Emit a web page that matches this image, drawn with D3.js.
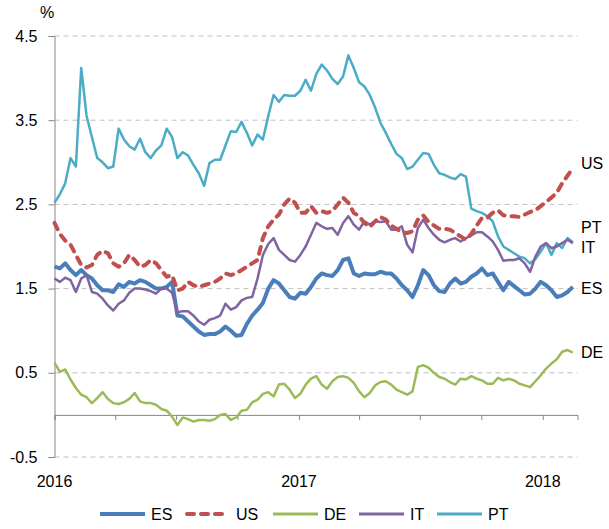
<!doctype html>
<html>
<head>
<meta charset="utf-8">
<script src="https://d3js.org/d3.v7.min.js"></script>
<style>
  body { margin: 0; background: #fff; }
  text { font-family: "Liberation Sans", Arial, sans-serif; fill: #000; }
</style>
</head>
<body>
<div id="chart"></div>
<script>

// one reading every 8 days, starting 1 Jan 2016
var startDate = "2016-01-01";
var stepDays = 8;

var ES = [1.76,1.74,1.80,1.72,1.66,1.72,1.66,1.62,1.54,1.48,1.48,1.46,1.55,1.52,1.58,1.56,1.60,1.58,1.54,1.50,
  1.50,1.52,1.58,1.18,1.17,1.11,1.05,0.99,0.95,0.96,0.96,0.99,1.05,1.00,0.94,0.95,1.08,1.18,1.25,1.33,
  1.50,1.60,1.56,1.48,1.40,1.38,1.45,1.44,1.52,1.62,1.68,1.66,1.65,1.72,1.84,1.86,1.68,1.65,1.68,1.67,
  1.67,1.70,1.68,1.68,1.62,1.54,1.48,1.40,1.54,1.72,1.66,1.54,1.47,1.46,1.56,1.62,1.56,1.58,1.64,1.68,
  1.74,1.66,1.68,1.58,1.48,1.58,1.53,1.48,1.43,1.44,1.50,1.58,1.54,1.48,1.40,1.42,1.46,1.52];

var US = [2.28,2.15,2.07,2.02,1.90,1.78,1.75,1.78,1.90,1.95,1.92,1.80,1.76,1.80,1.90,1.84,1.76,1.78,1.84,1.80,
  1.72,1.64,1.66,1.48,1.50,1.58,1.54,1.52,1.54,1.56,1.58,1.62,1.68,1.66,1.68,1.72,1.76,1.80,1.84,2.10,
  2.24,2.32,2.38,2.50,2.57,2.52,2.40,2.40,2.48,2.40,2.42,2.40,2.42,2.50,2.58,2.52,2.40,2.36,2.28,2.23,
  2.30,2.35,2.32,2.25,2.21,2.17,2.16,2.18,2.32,2.37,2.29,2.25,2.21,2.21,2.20,2.16,2.12,2.08,2.15,2.25,
  2.34,2.34,2.40,2.43,2.37,2.36,2.36,2.35,2.38,2.41,2.43,2.48,2.53,2.58,2.64,2.75,2.84,2.93];

var DE = [0.62,0.51,0.54,0.42,0.32,0.24,0.21,0.14,0.20,0.27,0.19,0.14,0.13,0.15,0.19,0.26,0.16,0.14,0.14,0.12,
  0.07,0.05,-0.02,-0.12,-0.03,-0.05,-0.08,-0.06,-0.06,-0.07,-0.05,0.00,0.01,-0.06,-0.03,0.05,0.06,0.15,0.18,0.25,
  0.27,0.22,0.36,0.37,0.30,0.20,0.25,0.36,0.43,0.46,0.36,0.31,0.40,0.45,0.46,0.44,0.38,0.28,0.21,0.26,
  0.35,0.39,0.40,0.36,0.30,0.27,0.24,0.28,0.57,0.59,0.56,0.50,0.45,0.43,0.39,0.36,0.43,0.42,0.46,0.43,
  0.41,0.37,0.37,0.44,0.41,0.43,0.41,0.37,0.35,0.33,0.40,0.47,0.55,0.61,0.66,0.75,0.77,0.74];

var IT = [1.62,1.58,1.63,1.60,1.46,1.62,1.66,1.46,1.44,1.38,1.30,1.24,1.32,1.36,1.45,1.50,1.50,1.49,1.47,1.44,
  1.50,1.50,1.45,1.22,1.23,1.23,1.18,1.11,1.07,1.13,1.15,1.18,1.32,1.25,1.28,1.36,1.39,1.40,1.62,1.90,
  2.03,2.10,1.96,1.90,1.84,1.82,1.90,2.00,2.14,2.28,2.24,2.21,2.22,2.14,2.28,2.36,2.26,2.20,2.30,2.26,
  2.30,2.29,2.30,2.20,2.20,2.24,2.02,1.93,2.22,2.32,2.22,2.14,2.08,2.05,2.08,2.10,2.06,2.10,2.13,2.17,
  2.17,2.12,2.06,1.96,1.83,1.84,1.84,1.86,1.80,1.70,1.88,2.00,2.04,1.98,2.00,2.04,2.08,2.04];

var PT = [2.52,2.62,2.75,3.05,2.95,4.12,3.55,3.30,3.05,3.00,2.93,2.95,3.40,3.27,3.19,3.15,3.28,3.12,3.05,3.14,
  3.20,3.40,3.30,3.05,3.12,3.08,2.97,2.87,2.72,2.99,3.03,3.03,3.20,3.37,3.36,3.48,3.35,3.20,3.33,3.27,
  3.55,3.80,3.72,3.80,3.79,3.79,3.85,3.98,3.85,4.05,4.16,4.09,3.99,3.93,4.02,4.27,4.12,3.95,3.90,3.80,
  3.65,3.47,3.35,3.22,3.10,3.05,2.92,2.95,3.03,3.11,3.10,2.97,2.87,2.85,2.82,2.80,2.86,2.83,2.45,2.42,
  2.40,2.36,2.30,2.12,2.00,1.96,1.92,1.88,1.86,1.80,1.85,1.94,2.04,1.90,2.04,1.98,2.10,2.05];

var yTicks = [-0.5, 0.5, 1.5, 2.5, 3.5, 4.5];
var yearLabels = ["2016", "2017", "2018"];
var seriesNames = ["ES", "US", "DE", "IT", "PT"];
var seriesColors = ["#4a7ebb", "#c0504d", "#9bbb59", "#8064a2", "#4bacc6"];

var W = 609, H = 529;
var parse = d3.timeParse("%Y-%m-%d");
var t0 = parse(startDate);
var dates = ES.map(function(d, i) { return d3.timeDay.offset(t0, i * stepDays); });

var x = d3.scaleTime()
    .domain([t0, parse("2018-02-22")])
    .range([54.5, 577.5]);
var y = d3.scaleLinear()
    .domain([-0.5, 4.5])
    .range([457, 36]);

var svg = d3.select("#chart").append("svg")
    .attr("width", W)
    .attr("height", H);

// dashed gridlines
svg.append("g").selectAll("line")
  .data(yTicks)
  .enter().append("line")
    .attr("x1", x.range()[0]).attr("x2", x.range()[1])
    .attr("y1", function(d) { return y(d); })
    .attr("y2", function(d) { return y(d); })
    .attr("stroke", "#c0c0c0")
    .attr("stroke-width", 1)
    .attr("stroke-dasharray", "5,4");

// y axis
var yAxis = svg.append("g")
    .attr("transform", "translate(54.5,0)")
    .call(d3.axisLeft(y).tickValues(yTicks).tickSize(6).tickPadding(11)
      .tickFormat(function(d) { return d; }));
yAxis.select(".domain").attr("stroke", "#868686");
yAxis.selectAll(".tick line").attr("stroke", "#868686");
yAxis.selectAll("text").style("font-size", "16px").attr("fill", "#000");

svg.append("text")
    .attr("x", 40).attr("y", 18)
    .style("font-size", "16px")
    .text("%");

// x axis at zero, quarterly ticks
var xAxis = svg.append("g")
    .attr("transform", "translate(0," + y(0) + ")")
    .call(d3.axisBottom(x).ticks(d3.timeMonth.every(3)).tickSize(5).tickFormat(""));
xAxis.select(".domain").attr("stroke", "#868686");
xAxis.selectAll(".tick line").attr("stroke", "#868686");

svg.append("g").selectAll("text")
  .data(yearLabels)
  .enter().append("text")
    .attr("x", function(d) { return x(parse(d + "-01-01")); })
    .attr("y", 487)
    .attr("text-anchor", "middle")
    .style("font-size", "16px")
    .text(function(d) { return d; });

// lines
var allSeries = [ES, US, DE, IT, PT];
var line = d3.line()
    .x(function(d, i) { return x(dates[i]); })
    .y(function(d) { return y(d); });

var drawOrder = [4, 2, 0, 3, 1];
drawOrder.forEach(function(k) {
  var p = svg.append("path")
      .datum(allSeries[k])
      .attr("fill", "none")
      .attr("stroke", seriesColors[k])
      .attr("stroke-linejoin", "round")
      .attr("d", line);
  if (k === 0) p.attr("stroke-width", 4);
  else if (k === 1) p.attr("stroke-width", 4).attr("stroke-dasharray", "7,7").attr("stroke-linecap", "round");
  else p.attr("stroke-width", 2.5);
});

// end labels
var endY = { US: 163, PT: 227, IT: 247, ES: 288, DE: 352 };
seriesNames.forEach(function(n) {
  svg.append("text")
      .attr("x", 581)
      .attr("y", endY[n])
      .attr("dy", "0.35em")
      .style("font-size", "16px")
      .text(n);
});

// legend
var legX = [100, 185, 273, 359, 437];
seriesNames.forEach(function(n, k) {
  var l = svg.append("line")
      .attr("x1", legX[k]).attr("x2", legX[k] + 45)
      .attr("y1", 514).attr("y2", 514)
      .attr("stroke", seriesColors[k])
      .attr("stroke-width", 4);
  if (k === 1) l.attr("x1", legX[k] + 2).attr("x2", legX[k] + 42)
      .attr("stroke-dasharray", "7,7").attr("stroke-linecap", "round");
  else if (k !== 0) l.attr("stroke-width", 3);
  svg.append("text")
      .attr("x", legX[k] + 51)
      .attr("y", 514)
      .attr("dy", "0.35em")
      .style("font-size", "16px")
      .text(n);
});

</script>
</body>
</html>
